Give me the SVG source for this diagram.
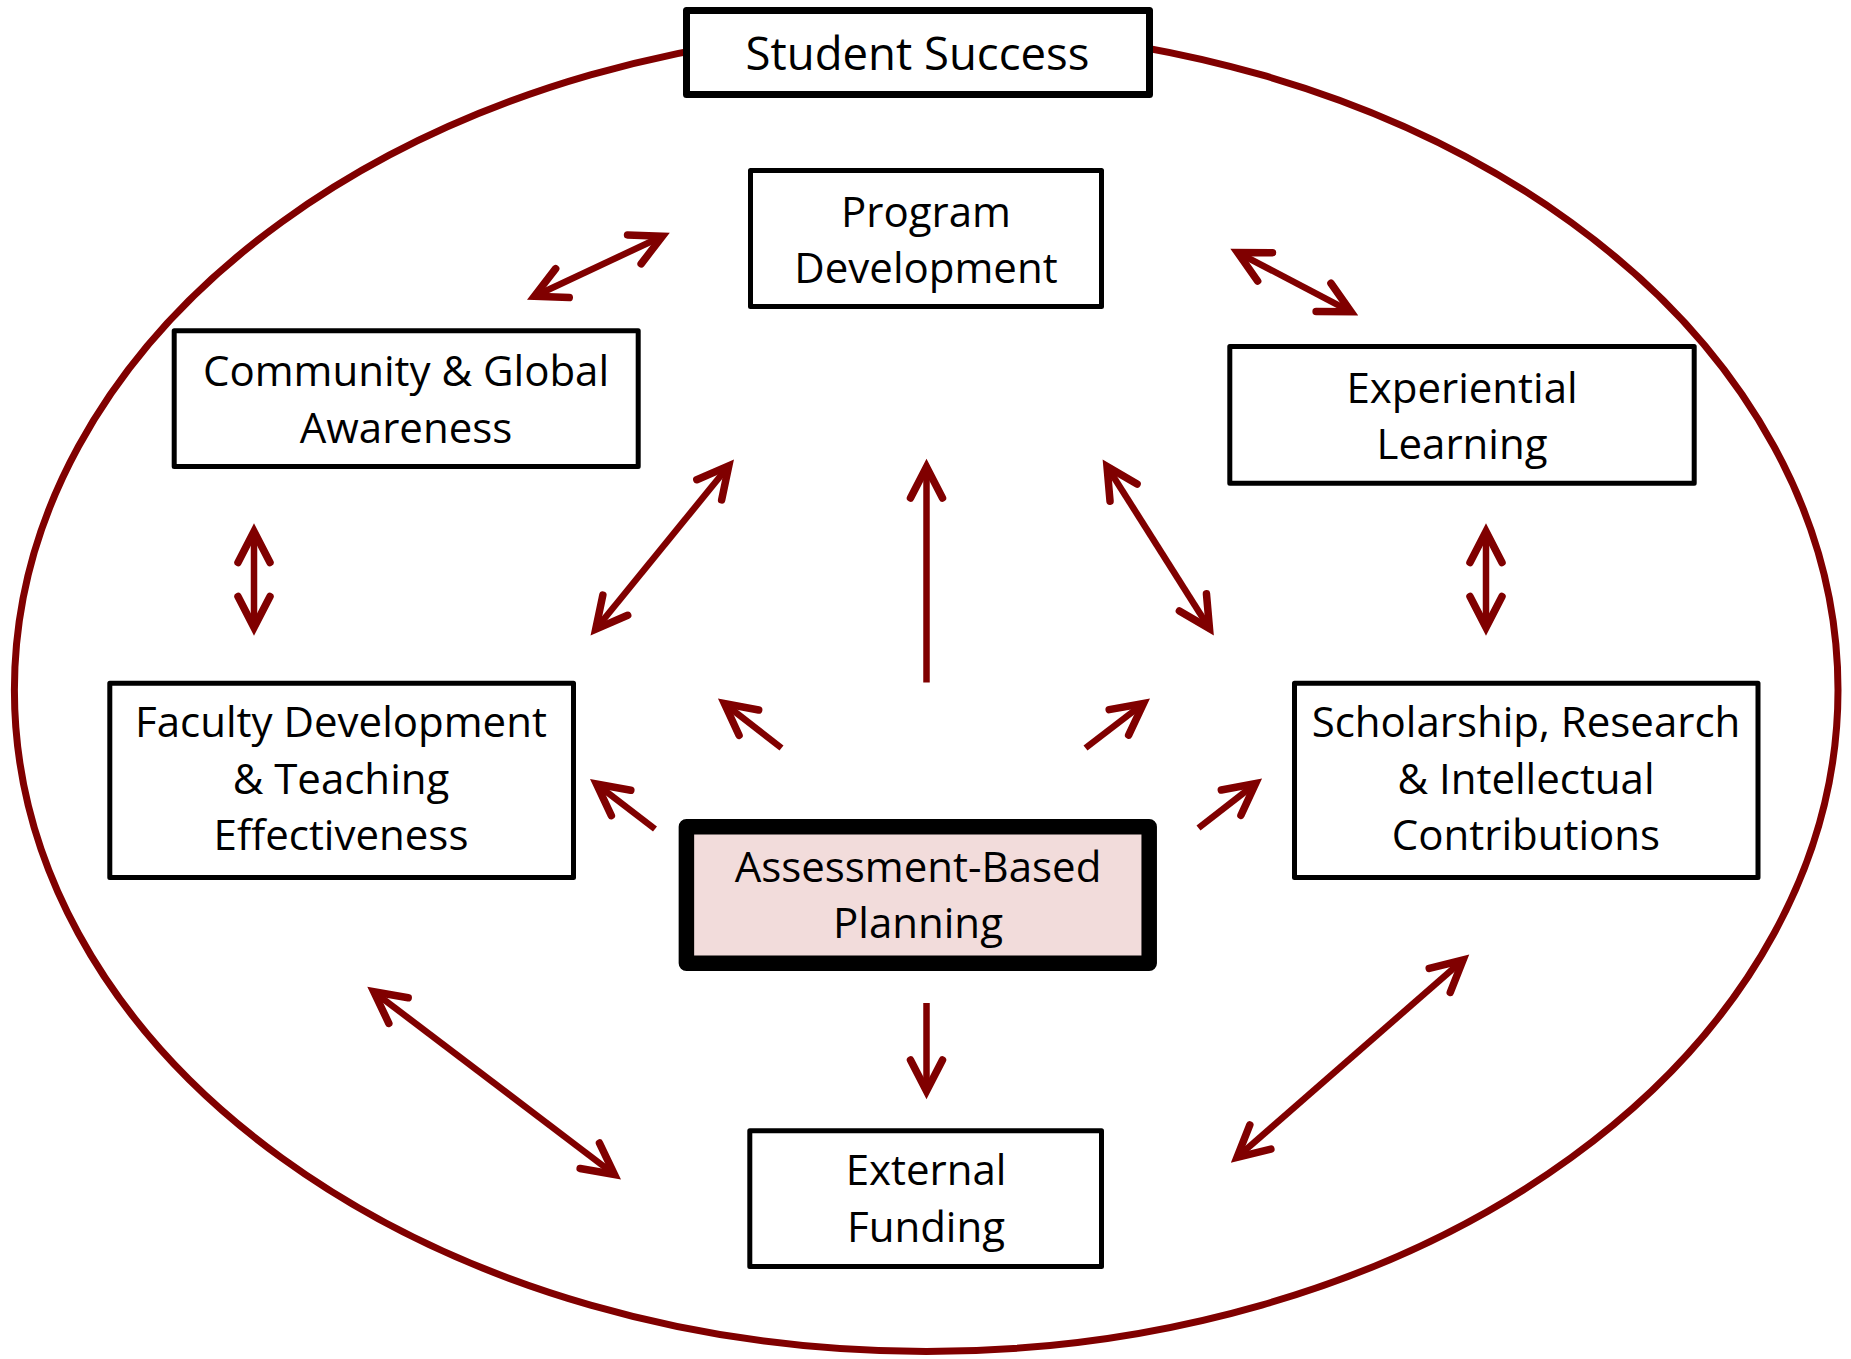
<svg xmlns="http://www.w3.org/2000/svg" width="1851" height="1359" viewBox="0 0 1851 1359">
<style>
.box{fill:#fff;stroke:#000;stroke-width:5;stroke-linejoin:round}
.t{font-family:"Open Sans","Noto Sans","Liberation Sans",sans-serif;font-size:42px;fill:#000;text-anchor:middle}
.c{fill:none;stroke:#800000;stroke-width:6.5}
</style>
<defs>
<marker id="ah" markerUnits="userSpaceOnUse" viewBox="-45 -25 55 50" refX="0" refY="0" markerWidth="55" markerHeight="50" orient="auto-start-reverse" overflow="visible">
<path d="M-31,-16 L0,0 L-31,16" fill="none" stroke="#800000" stroke-width="7.5" stroke-linecap="round" stroke-linejoin="miter"/>
</marker>
</defs>
<rect width="1851" height="1359" fill="#fff"/>
<ellipse id="outer" cx="926.2" cy="690" rx="911.8" ry="661.5" fill="none" stroke="#800000" stroke-width="7"/>
<g id="connectors">
<line class="c" x1="534.4" y1="296.3" x2="662.4" y2="236.2" marker-start="url(#ah)" marker-end="url(#ah)"/>
<line class="c" x1="1237.6" y1="252.5" x2="1351" y2="311.8" marker-start="url(#ah)" marker-end="url(#ah)"/>
<line class="c" x1="254" y1="531.5" x2="254" y2="627.5" marker-start="url(#ah)" marker-end="url(#ah)"/>
<line class="c" x1="1486" y1="531.5" x2="1486" y2="627.5" marker-start="url(#ah)" marker-end="url(#ah)"/>
<line class="c" x1="595.7" y1="629.2" x2="728.8" y2="465.8" marker-start="url(#ah)" marker-end="url(#ah)"/>
<line class="c" x1="926.5" y1="682.5" x2="926.5" y2="467" marker-end="url(#ah)"/>
<line class="c" x1="1107" y1="466.4" x2="1209.5" y2="628.6" marker-start="url(#ah)" marker-end="url(#ah)"/>
<line class="c" x1="781.5" y1="748" x2="724.4" y2="703.6" marker-end="url(#ah)"/>
<line class="c" x1="1085.5" y1="748" x2="1143.5" y2="703.5" marker-end="url(#ah)"/>
<line class="c" x1="655" y1="829" x2="596.5" y2="784.1" marker-end="url(#ah)"/>
<line class="c" x1="1198.5" y1="828" x2="1255.6" y2="783.6" marker-end="url(#ah)"/>
<line class="c" x1="926.5" y1="1003" x2="926.5" y2="1091" marker-end="url(#ah)"/>
<line class="c" x1="373.8" y1="991.8" x2="614.5" y2="1174.5" marker-start="url(#ah)" marker-end="url(#ah)"/>
<line class="c" x1="1463.1" y1="960" x2="1237" y2="1157.4" marker-start="url(#ah)" marker-end="url(#ah)"/>
</g>
<g id="student-success">
<rect class="box" x="686.5" y="10.5" width="463" height="84" style="stroke-width:7"/>
<text class="t" x="917.5" y="70" style="font-size:45.5px">Student Success</text>
</g>
<g id="program-development">
<rect class="box" x="750.5" y="170.5" width="351" height="136"/>
<text class="t" x="926" y="226.5">Program</text>
<text class="t" x="926" y="283">Development</text>
</g>
<g id="community-global">
<rect class="box" x="174.2" y="330.8" width="464" height="135.7"/>
<text class="t" x="406" y="386">Community &amp; Global</text>
<text class="t" x="406" y="442.5">Awareness</text>
</g>
<g id="experiential-learning">
<rect class="box" x="1229.8" y="346.5" width="464.4" height="136.7"/>
<text class="t" x="1462" y="402.5">Experiential</text>
<text class="t" x="1462" y="459">Learning</text>
</g>
<g id="faculty-development">
<rect class="box" x="109.8" y="683.2" width="463.7" height="194.3"/>
<text class="t" x="341" y="737">Faculty Development</text>
<text class="t" x="341" y="793.5">&amp; Teaching</text>
<text class="t" x="341" y="850">Effectiveness</text>
</g>
<g id="scholarship">
<rect class="box" x="1294.5" y="683.2" width="463.5" height="194.3"/>
<text class="t" x="1526" y="737">Scholarship, Research</text>
<text class="t" x="1526" y="793.5">&amp; Intellectual</text>
<text class="t" x="1526" y="850">Contributions</text>
</g>
<g id="assessment-planning">
<rect x="686.4" y="826.8" width="462.8" height="136.4" fill="#F2DCDB" stroke="#000" stroke-width="15.5" stroke-linejoin="round"/>
<text class="t" x="918" y="881.7">Assessment-Based</text>
<text class="t" x="918" y="938.3">Planning</text>
</g>
<g id="external-funding">
<rect class="box" x="749.8" y="1130.8" width="351.7" height="135.7"/>
<text class="t" x="926" y="1185">External</text>
<text class="t" x="926" y="1241.7">Funding</text>
</g>
</svg>
